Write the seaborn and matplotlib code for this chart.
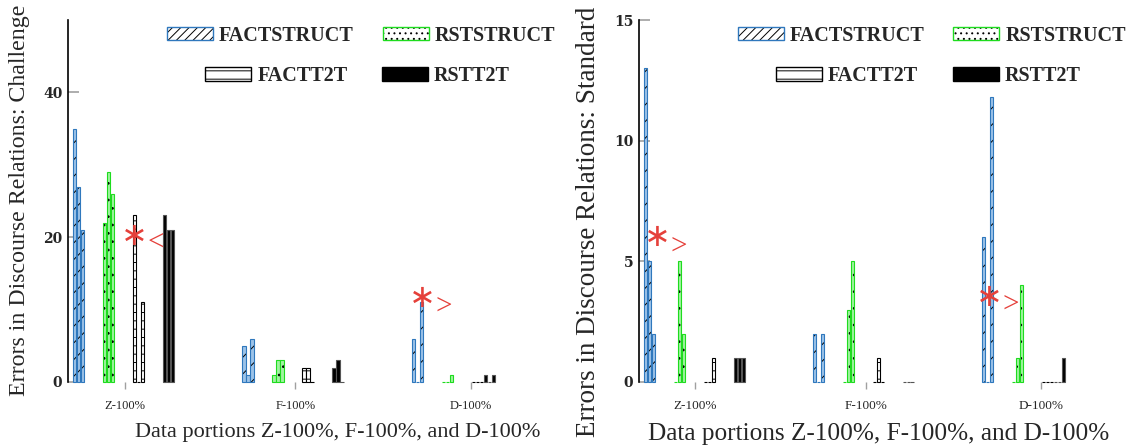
import pandas as pd
import matplotlib as mpl
import matplotlib.pyplot as plt
import seaborn as sns
from matplotlib.patches import Patch

# Portions on the x axis and the four systems in each portion
portions = ['Z-100%', 'F-100%', 'D-100%']
systems = ['factStruct', 'rstStruct', 'factT2T', 'rstT2T']
legend_labels = ['FACTSTRUCT', 'RSTSTRUCT', 'FACTT2T', 'RSTT2T']

# Errors in discourse relations, three bars per system and portion (Z, F, D)
challenge_factstruct = [[35, 27, 21], [5, 1, 6], [6, 0, 11]]
challenge_rststruct = [[22, 29, 26], [1, 3, 3], [0, 0, 1]]
challenge_factt2t = [[23, 0, 11], [2, 2, 0], [0, 0, 0]]
challenge_rstt2t = [[23, 21, 21], [2, 3, 0], [1, 0, 1]]

standard_factstruct = [[13, 5, 2], [2, 0, 2], [6, 0, 11.8]]
standard_rststruct = [[0, 5, 2], [0, 3, 5], [0, 1, 4]]
standard_factt2t = [[0, 0, 1], [0, 1, 0], [0, 0, 0]]
standard_rstt2t = [[1, 1, 1], [0, 0, 0], [0, 0, 1]]

challenge = dict(zip(systems, [challenge_factstruct, challenge_rststruct,
                               challenge_factt2t, challenge_rstt2t]))
standard = dict(zip(systems, [standard_factstruct, standard_rststruct,
                              standard_factt2t, standard_rstt2t]))

# significance marks: (sign, x where star and sign meet, star y, sign y)
challenge_notes = [('<', 73.5, 20.1, 19.2), ('>', 361.5, 11.6, 10.4)]
standard_notes = [('>', 25.5, 5.97, 5.6), ('>', 358.5, 3.52, 3.2)]

# layout (pixel-like units along x)
group_step = 169.5
system_slots = [0, 30, 60, 90]
bar_step = 4
slot_fix = {('D-100%', 'rstT2T'): -18}
tick_pos = [50, 221, 397]

blue, green, red = '#2f78bd', '#1edc1e', '#e5403a'
styles = {
    'factStruct': dict(face='#9cc3e8', edge=blue, hatch='//', key='////'),
    'rstStruct': dict(face='#a0f3a0', edge=green, hatch='..', key='...'),
    'factT2T': dict(face='white', edge='black', hatch='--', key='--'),
    'rstT2T': dict(face='black', edge='#555555', hatch='', key=''),
}

sns.set_theme(style='white')
plt.rcParams['font.family'] = ['Liberation Serif', 'DejaVu Serif']
plt.rcParams['hatch.linewidth'] = 0.7


def build_frame(values):
    rows = []
    for s_i, s in enumerate(systems):
        for g_i, p in enumerate(portions):
            off = system_slots[s_i] + slot_fix.get((p, s), 0)
            for k, v in enumerate(values[s][g_i]):
                rows.append({'system': s, 'portion': p,
                             'pos': g_i * group_step + off + k * bar_step,
                             'errors': v})
    return pd.DataFrame(rows)


def draw_panel(ax, values, ymax, yticks, ylabel, notes, big):
    df = build_frame(values)
    for s in systems:
        st = styles[s]
        n_before = len(ax.patches)
        sns.barplot(data=df[df['system'] == s], x='pos', y='errors',
                    native_scale=True, orient='x', width=0.85,
                    color=st['face'], saturation=1, errorbar=None,
                    edgecolor=st['edge'], linewidth=0.8, hatch=st['hatch'],
                    ax=ax)
        for p in ax.patches[n_before:]:
            p._hatch_color = mpl.colors.to_rgba('black')
            p.set_clip_on(False)

    ax.set_xlim(-6.5, 486)
    ax.set_ylim(0, ymax)
    for side in ['top', 'right', 'bottom']:
        ax.spines[side].set_visible(False)
    ax.spines['left'].set_color('black')
    ax.spines['left'].set_linewidth(1.2)

    ax.set_xticks(tick_pos, portions)
    ax.tick_params(axis='x', direction='out', length=5, width=1,
                   color='#a0a0a0', labelsize=9.5 if big else 9, pad=8,
                   bottom=True)
    ax.set_yticks(yticks, [str(t) for t in yticks])
    ax.tick_params(axis='y', direction='in', length=8, width=1.2,
                   color='#a0a0a0', pad=4, left=True)
    for lab in ax.get_yticklabels():
        lab.set_fontfamily('DejaVu Serif')
        lab.set_fontweight('bold')
        lab.set_fontsize(10)

    ax.set_xlabel('Data portions Z-100%, F-100%, and D-100%',
                  fontsize=18.2 if big else 16)
    ax.set_ylabel(ylabel, fontsize=19.5 if big else 17.2)
    if big:
        ax.xaxis.set_label_coords(0.487, -0.114)
        ax.yaxis.set_label_coords(-0.077, 0.442)
    else:
        ax.xaxis.set_label_coords(0.547, -0.114)
        ax.yaxis.set_label_coords(-0.077, 0.503)

    for sign, x, y_star, y_sign in notes:
        ax.text(x, y_star, '\u2217', color=red, fontsize=23,
                family='DejaVu Sans', ha='right', va='center')
        ax.text(x, y_sign, sign, color=red, fontsize=21,
                family='Liberation Serif', ha='left', va='center')

    handles = []
    for s in systems:
        st = styles[s]
        face = 'black' if s == 'rstT2T' else 'white'
        edge = 'black' if s == 'rstT2T' else st['edge']
        h = Patch(facecolor=face, edgecolor=edge, hatch=st['key'], linewidth=1)
        h._hatch_color = mpl.colors.to_rgba('black')
        handles.append(h)
    leg_kw = dict(ncol=2, loc='center left', frameon=False,
                  prop={'family': 'Liberation Serif', 'weight': 'bold', 'size': 14.5},
                  handlelength=2.28, handleheight=0.65, handletextpad=0.3,
                  borderpad=0, borderaxespad=0)
    leg1 = ax.legend(handles[:2], legend_labels[:2], columnspacing=1.44,
                     bbox_to_anchor=(0.201, 0.957), **leg_kw)
    ax.add_artist(leg1)
    ax.legend(handles[2:], legend_labels[2:], columnspacing=1.72,
              bbox_to_anchor=(0.279, 0.845), **leg_kw)


fig = plt.figure(figsize=(11.34, 4.45), dpi=100)
ax1 = fig.add_axes([0.060, 0.1416, 0.434, 0.8134])
ax2 = fig.add_axes([0.5635, 0.1416, 0.433, 0.8134])

draw_panel(ax1, challenge, 50, [0, 20, 40],
           'Errors in Discourse Relations: Challenge', challenge_notes, False)
draw_panel(ax2, standard, 15, [0, 5, 10, 15],
           'Errors in Discourse Relations: Standard', standard_notes, True)

fig.savefig('out.png', dpi=100)
